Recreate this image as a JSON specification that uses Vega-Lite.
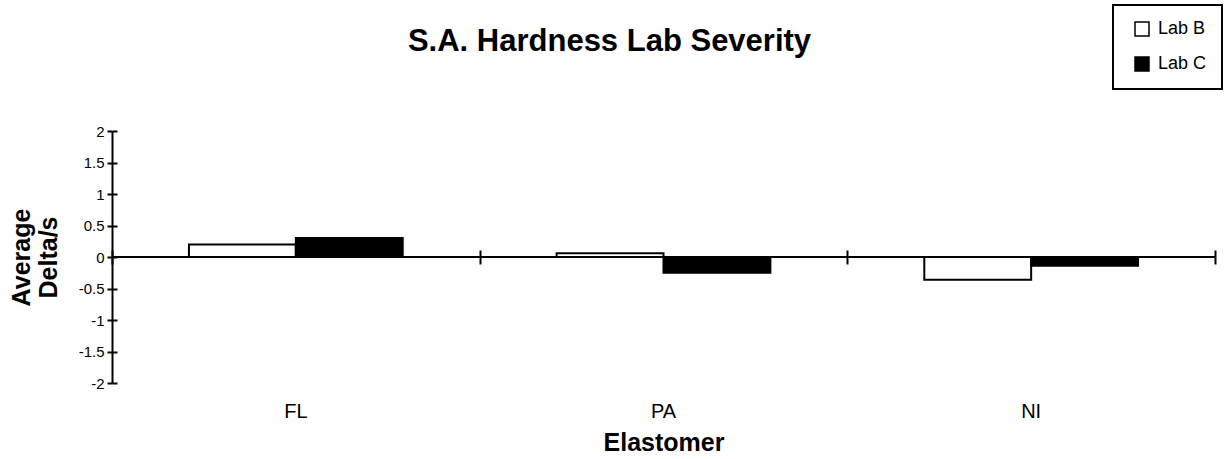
{
  "$schema": "https://vega.github.io/schema/vega-lite/v6.json",
  "autosize": {"type": "none"},
  "width": 1103,
  "height": 252,
  "padding": {"left": 112, "top": 131, "right": 10, "bottom": 76},
  "background": "white",
  "title": {
    "text": "S.A. Hardness Lab Severity",
    "fontSize": 31,
    "fontWeight": "bold",
    "font": "Liberation Sans",
    "color": "black",
    "anchor": "middle",
    "frame": "group",
    "dx": -54,
    "baseline": "alphabetic",
    "offset": -78
  },
  "config": {
    "view": {"stroke": null},
    "font": "Liberation Sans",
    "axis": {"labelColor": "black", "titleColor": "black", "domainColor": "black", "tickColor": "black", "grid": false},
    "legend": {"strokeWidth": 2}
  },
  "data": {
    "values": [
      {"Elastomer": "FL", "Lab": "Lab B", "Value": 0.2},
      {"Elastomer": "FL", "Lab": "Lab C", "Value": 0.3},
      {"Elastomer": "PA", "Lab": "Lab B", "Value": 0.06},
      {"Elastomer": "PA", "Lab": "Lab C", "Value": -0.25},
      {"Elastomer": "NI", "Lab": "Lab B", "Value": -0.36},
      {"Elastomer": "NI", "Lab": "Lab C", "Value": -0.14}
    ]
  },
  "layer": [
    {
      "mark": {"type": "bar", "stroke": "black", "strokeWidth": 2},
      "encoding": {
        "x": {
          "field": "Elastomer",
          "type": "nominal",
          "sort": ["FL", "PA", "NI"],
          "scale": {"paddingInner": 0, "paddingOuter": 0},
          "axis": {
            "orient": "bottom",
            "domain": false,
            "ticks": false,
            "tickSize": 0,
            "labelAngle": 0,
            "labelFontSize": 20,
            "labelPadding": 18,
            "title": "Elastomer",
            "titleFontSize": 25,
            "titleFontWeight": "bold",
            "titlePadding": 9
          }
        },
        "xOffset": {
          "field": "Lab",
          "type": "nominal",
          "scale": {"paddingInner": 0, "paddingOuter": 0.72}
        },
        "y": {
          "field": "Value",
          "type": "quantitative",
          "scale": {"domain": [-2, 2], "nice": false, "zero": false},
          "axis": {
            "values": [-2, -1.5, -1, -0.5, 0, 0.5, 1, 1.5, 2],
            "labelExpr": "'' + datum.value",
            "domain": true,
            "domainWidth": 2,
            "tickSize": 5,
            "tickWidth": 2,
            "labelFontSize": 15,
            "labelPadding": 3,
            "title": ["Average", "Delta/s"],
            "titleFontSize": 25,
            "titleFontWeight": "bold",
            "titlePadding": 17,
            "titleLineHeight": 27
          }
        },
        "fill": {
          "field": "Lab",
          "type": "nominal",
          "scale": {"domain": ["Lab B", "Lab C"], "range": ["white", "black"]},
          "legend": {
            "title": null,
            "orient": "none",
            "legendX": 1001,
            "legendY": -126,
            "strokeColor": "black",
            "padding": 15,
            "symbolType": "square",
            "symbolSize": 196,
            "symbolStrokeColor": "black",
            "symbolStrokeWidth": 1.5,
            "symbolOffset": 5,
            "labelFontSize": 18,
            "labelColor": "black",
            "labelOffset": 7,
            "rowPadding": 15
          }
        }
      }
    },
    {
      "mark": {"type": "rule", "color": "black", "strokeWidth": 2},
      "encoding": {
        "x": {
          "datum": 0,
          "type": "quantitative",
          "scale": {"domain": [0, 3], "nice": false, "zero": false},
          "axis": {
            "orient": "bottom",
            "offset": -126,
            "values": [0, 1, 2, 3],
            "domain": false,
            "labels": false,
            "ticks": true,
            "tickSize": 7,
            "tickWidth": 2,
            "title": null
          }
        },
        "x2": {"datum": 3},
        "y": {
          "datum": 0,
          "type": "quantitative",
          "axis": {
            "orient": "left",
            "offset": -5,
            "values": [-2, -1.5, -1, -0.5, 0, 0.5, 1, 1.5, 2],
            "domain": false,
            "labels": false,
            "tickSize": 5,
            "tickWidth": 2,
            "title": null
          }
        }
      }
    },
    {
      "mark": {"type": "rule", "color": "black", "strokeWidth": 2},
      "encoding": {
        "x": {
          "datum": 0,
          "type": "quantitative",
          "scale": {"domain": [0, 3], "nice": false, "zero": false},
          "axis": {
            "orient": "top",
            "offset": -126,
            "values": [0, 1, 2, 3],
            "domain": false,
            "labels": false,
            "ticks": true,
            "tickSize": 7,
            "tickWidth": 2,
            "title": null
          }
        },
        "x2": {"datum": 3},
        "y": {"datum": 0, "type": "quantitative", "axis": null}
      }
    }
  ],
  "resolve": {"scale": {"x": "independent"}, "axis": {"x": "independent", "y": "independent"}}
}
